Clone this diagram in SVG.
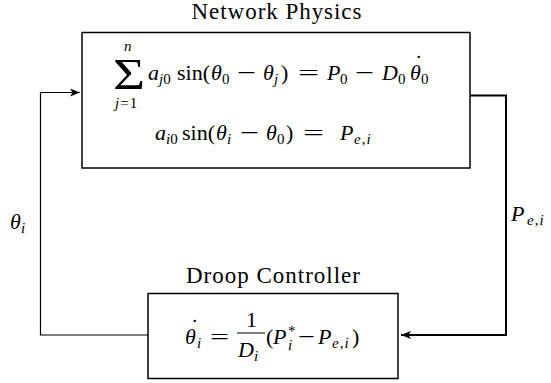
<svg xmlns="http://www.w3.org/2000/svg" width="551" height="383" viewBox="0 0 551 383" font-family="'Liberation Serif', 'Times New Roman', serif">
<defs>
<style>
text{font-family:'Liberation Serif','Times New Roman',serif;fill:#000}
.m{font-size:22px}
.i{font-style:italic}
.s{font-size:15px}
.t{font-size:23px}
.box{fill:#fff;stroke:#000;stroke-width:1.5}
.wire{fill:none;stroke:#000}
</style>
<marker id="ah" markerWidth="10" markerHeight="8" refX="10" refY="4" orient="auto" markerUnits="userSpaceOnUse">
<path d="M0,0 L10,4 L0,8 L2.5,4 Z" fill="#000"/>
</marker>
</defs>
<g id="connectors">
<path class="wire" stroke-width="1.2" d="M148,335 H40.5 V92.5 H80" marker-end="url(#ah)"/>
<path class="wire" stroke-width="2" d="M470,95.5 H506 V335 H401" marker-end="url(#ah)"/>
<text class="m i" x="10" y="229">θ</text><text class="s i" x="21" y="233">i</text>
<text class="m i" x="511" y="221">P</text><text class="s i" x="527" y="225" letter-spacing="1">e,i</text>
</g>
<g id="network-physics">
<text class="t" x="276.5" y="19" text-anchor="middle" textLength="170" lengthAdjust="spacing">Network Physics</text>
<rect class="box" x="82" y="32.5" width="388" height="135.5"/>
<text x="113" y="89" font-size="44" textLength="32" lengthAdjust="spacingAndGlyphs">Σ</text>
<text class="s i" x="124" y="51">n</text>
<text class="s" x="115" y="108" letter-spacing="1"><tspan font-style="italic">j</tspan>=1</text>
<text class="m i" x="148" y="80">a</text><text class="s" x="159" y="84"><tspan font-style="italic">j</tspan>0</text>
<text class="m" x="177" y="80">sin(</text>
<text class="m i" x="211" y="80">θ</text><text class="s" x="222" y="84">0</text>
<text class="m" x="237" y="80" textLength="19" lengthAdjust="spacingAndGlyphs">−</text>
<text class="m i" x="263" y="80">θ</text><text class="s i" x="274" y="84">j</text>
<text class="m" x="281" y="80">)</text>
<text class="m" x="298" y="80" textLength="21" lengthAdjust="spacingAndGlyphs">=</text>
<text class="m i" x="327" y="80">P</text><text class="s" x="340" y="84">0</text>
<text class="m" x="355" y="80" textLength="19" lengthAdjust="spacingAndGlyphs">−</text>
<text class="m i" x="382" y="80">D</text><text class="s" x="398" y="84">0</text>
<text class="m i" x="410" y="80">θ</text><text class="m" x="415" y="70">˙</text><text class="s" x="421" y="84">0</text>
<text class="m i" x="155" y="140">a</text><text class="s" x="166" y="144"><tspan font-style="italic">i</tspan>0</text>
<text class="m" x="182" y="140">sin(</text>
<text class="m i" x="216" y="140">θ</text><text class="s i" x="227" y="144">i</text>
<text class="m" x="240" y="140" textLength="19" lengthAdjust="spacingAndGlyphs">−</text>
<text class="m i" x="266" y="140">θ</text><text class="s" x="277" y="144">0</text>
<text class="m" x="286" y="140">)</text>
<text class="m" x="303" y="140" textLength="21" lengthAdjust="spacingAndGlyphs">=</text>
<text class="m i" x="340" y="140">P</text><text class="s i" x="354" y="144" letter-spacing="1">e,i</text>
</g>
<g id="droop-controller">
<text class="t" x="273" y="283" text-anchor="middle" textLength="174" lengthAdjust="spacing">Droop Controller</text>
<rect class="box" x="148" y="293.5" width="250" height="85"/>
<text class="m i" x="185" y="344">θ</text><text class="m" x="191" y="334">˙</text><text class="s i" x="197" y="348">i</text>
<text class="m" x="210" y="344" textLength="19" lengthAdjust="spacingAndGlyphs">=</text>
<text class="m" x="246" y="327">1</text>
<line x1="237" y1="333" x2="265" y2="333" stroke="#000" stroke-width="1"/>
<text class="m i" x="238" y="357">D</text><text class="s i" x="254" y="361">i</text>
<text class="m" x="266" y="344">(</text>
<text class="m i" x="273" y="344">P</text><text class="s" x="288" y="336">*</text><text class="s i" x="288" y="350">i</text>
<text class="m" x="298" y="344" textLength="17" lengthAdjust="spacingAndGlyphs">−</text>
<text class="m i" x="318" y="344">P</text><text class="s i" x="332" y="348" letter-spacing="1">e,i</text>
<text class="m" x="352" y="344">)</text>
</g>
</svg>
